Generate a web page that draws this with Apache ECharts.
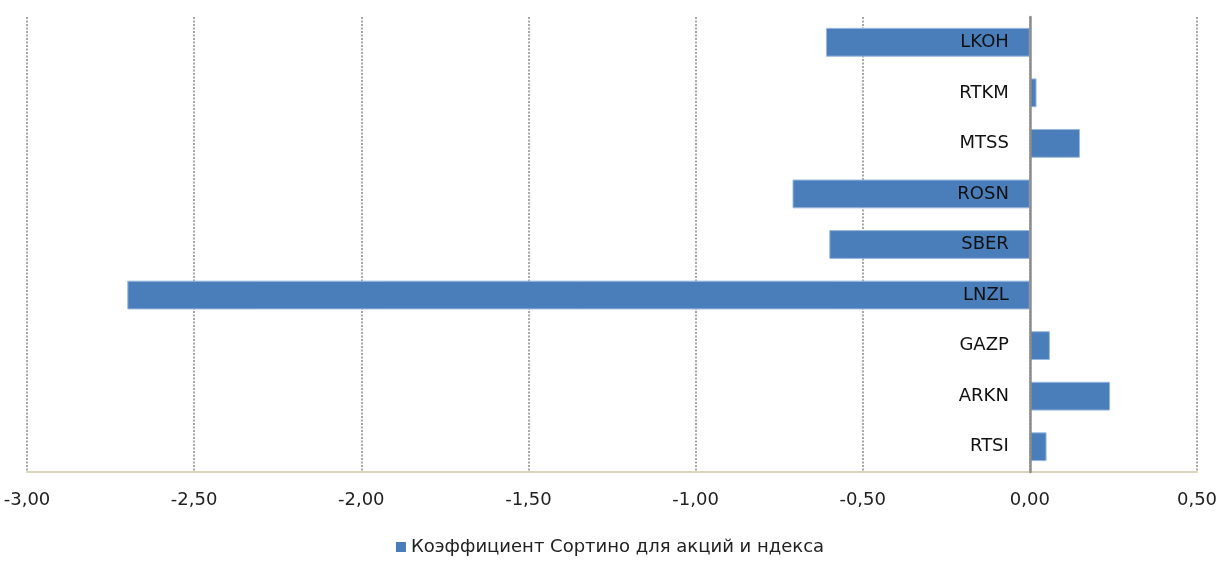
<!DOCTYPE html>
<html>
<head>
<meta charset="utf-8">
<script src="https://cdn.jsdelivr.net/npm/echarts@6/dist/echarts.min.js"></script>
<style>
    html, body { margin: 0; padding: 0; background: #fff; }
    #bar-chart { width: 1220px; height: 561px; }
</style>
</head>
<body>
<div id="bar-chart"></div>
<script>
var tickers = ['LKOH', 'RTKM', 'MTSS', 'ROSN', 'SBER', 'LNZL', 'GAZP', 'ARKN', 'RTSI'],
    sortino = [-0.61, 0.02, 0.15, -0.71, -0.60, -2.70, 0.06, 0.24, 0.05],
    seriesName = 'Коэффициент Сортино для акций и ндекса';

var barChart = null,
    font = 'DejaVu Sans',
    barOption = {
        animation: false,
        grid: {
            top: 17,
            left: 27,
            right: 23,
            bottom: 89,
            containLabel: false,
            outerBoundsMode: 'none'
        },
        legend: {
            bottom: 0,
            left: 'center',
            itemWidth: 10,
            itemHeight: 10,
            itemGap: 7,
            icon: 'rect',
            textStyle: { fontFamily: font, fontSize: 18, color: '#222' },
            data: [{ name: seriesName, itemStyle: { borderWidth: 0 } }]
        },
        xAxis: [{
            type: 'value',
            min: -3,
            max: 0.5,
            interval: 0.5,
            axisLine: { show: true, onZero: false, lineStyle: { color: '#d9d4bf', width: 2 } },
            axisTick: { show: false },
            splitLine: { show: true, lineStyle: { color: '#a8a8a8', width: 2, type: [2, 1.5] } },
            axisLabel: {
                margin: 19,
                fontFamily: font,
                fontSize: 18,
                color: '#222',
                formatter: function (v) {
                    if (Math.abs(v) < 1e-9) v = 0;
                    return v.toFixed(2).replace('.', ',');
                }
            }
        }],
        yAxis: [{
            type: 'category',
            inverse: true,
            data: tickers,
            axisLine: { show: true, onZero: true, lineStyle: { color: '#8c8c8c', width: 2.5 } },
            axisTick: { show: false },
            splitLine: { show: false },
            axisLabel: { show: false },
            z: 3
        }],
        series: [{
            name: seriesName,
            type: 'bar',
            barCategoryGap: '43%',
            itemStyle: { color: '#4a7ebb', borderColor: '#9ab8de', borderWidth: 1 },
            data: sortino
        }, {
            // zero-width helper so the ticker names sit beside the zero line
            name: 'labels',
            type: 'bar',
            barGap: '-100%',
            silent: true,
            itemStyle: { color: 'transparent', borderWidth: 0 },
            label: {
                show: true,
                position: 'left',
                distance: 21,
                formatter: '{b}',
                fontFamily: font,
                fontSize: 18,
                color: '#111'
            },
            z: 4,
            data: tickers.map(function () { return 0; })
        }]
    };

barChart = echarts.init(document.getElementById('bar-chart'));
barChart.setOption(barOption);
</script>
</body>
</html>
